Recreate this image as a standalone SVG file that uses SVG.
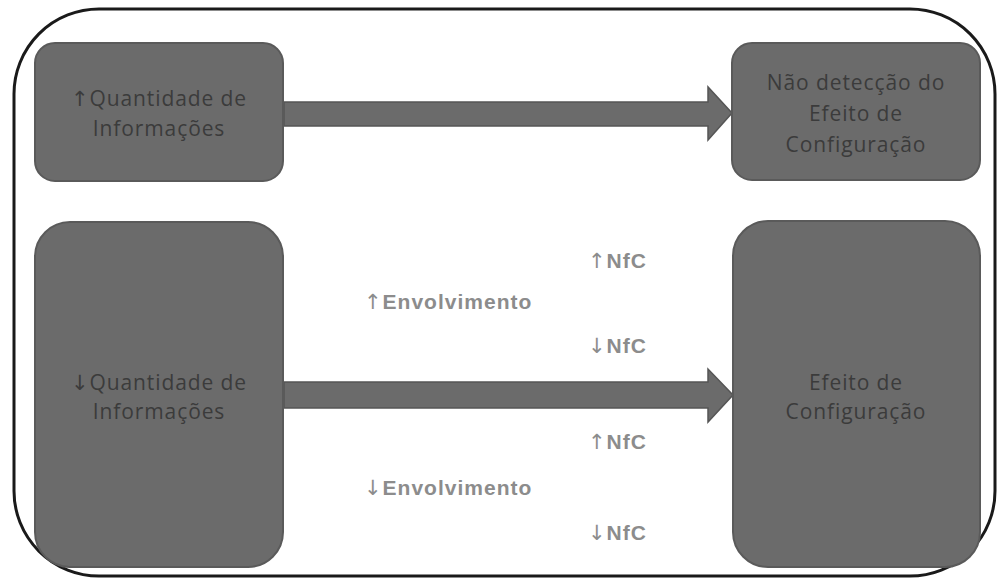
<svg xmlns="http://www.w3.org/2000/svg" width="999" height="585" viewBox="0 0 999 585">
<style>
.box{fill:#6b6b6b;stroke:#5a5a5a;stroke-width:2}
.t{font-family:"Open Sans","Liberation Sans",sans-serif;font-size:21px;letter-spacing:0.9px;fill:#3b3b3b;text-anchor:middle}
.l{font-family:"Liberation Sans","Open Sans",sans-serif;font-size:21px;letter-spacing:1px;fill:#8c8c8c;font-weight:bold}
.a{font-family:"DejaVu Sans",sans-serif;font-weight:normal}
.arrow{fill:#6b6b6b;stroke:#555;stroke-width:1.5}
</style>
<rect x="14" y="9" width="981" height="567" rx="85" ry="85" fill="#fff" stroke="#1a1a1a" stroke-width="3"/>
<g id="connectors">
<polygon class="arrow" points="284,102 708,102 708,87 732,113 708,140 708,126 284,126"/>
<polygon class="arrow" points="284,382 708,382 708,369 733,395 708,422 708,408 284,408"/>
</g>
<g id="n1">
<rect class="box" x="35" y="43" width="248" height="138" rx="20"/>
<text class="t" x="159" y="106"><tspan class="a">↑</tspan>Quantidade de</text>
<text class="t" x="159" y="136">Informações</text>
</g>
<g id="n2">
<rect class="box" x="732" y="43" width="248" height="137" rx="20"/>
<text class="t" x="856" y="90">Não detecção do</text>
<text class="t" x="856" y="121">Efeito de</text>
<text class="t" x="856" y="152">Configuração</text>
</g>
<g id="n3">
<rect class="box" x="35" y="222" width="248" height="345" rx="35"/>
<text class="t" x="159" y="390"><tspan class="a">↓</tspan>Quantidade de</text>
<text class="t" x="159" y="419">Informações</text>
</g>
<g id="n4">
<rect class="box" x="733" y="221" width="247" height="346" rx="35"/>
<text class="t" x="856" y="390">Efeito de</text>
<text class="t" x="856" y="419">Configuração</text>
</g>
<g id="labels">
<text class="l" x="588" y="268"><tspan class="a">↑</tspan>NfC</text>
<text class="l" x="364" y="309"><tspan class="a">↑</tspan>Envolvimento</text>
<text class="l" x="588" y="353"><tspan class="a">↓</tspan>NfC</text>
<text class="l" x="588" y="449"><tspan class="a">↑</tspan>NfC</text>
<text class="l" x="364" y="495"><tspan class="a">↓</tspan>Envolvimento</text>
<text class="l" x="588" y="540"><tspan class="a">↓</tspan>NfC</text>
</g>
</svg>
